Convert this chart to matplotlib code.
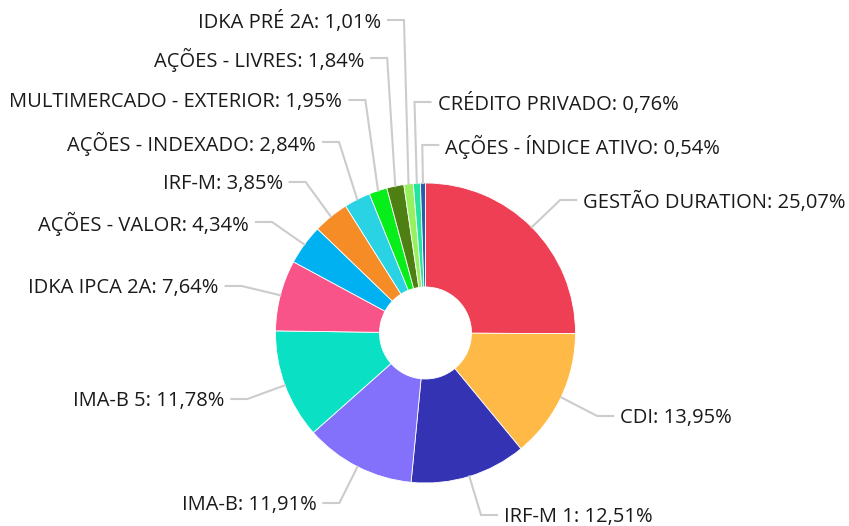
import numpy as np
import matplotlib.pyplot as plt

plt.rcParams['font.family'] = ['Open Sans', 'DejaVu Sans']

# dados
categorias = ['GESTÃO DURATION', 'CDI', 'IRF-M 1', 'IMA-B', 'IMA-B 5', 'IDKA IPCA 2A',
              'AÇÕES - VALOR', 'IRF-M', 'AÇÕES - INDEXADO', 'MULTIMERCADO - EXTERIOR',
              'AÇÕES - LIVRES', 'IDKA PRÉ 2A', 'CRÉDITO PRIVADO', 'AÇÕES - ÍNDICE ATIVO']
valores = [25.07, 13.95, 12.51, 11.91, 11.78, 7.64, 4.34, 3.85, 2.84, 1.95, 1.84, 1.01, 0.76, 0.54]
cores = ['#EE3F55', '#FFB946', '#3333B3', '#8370FB', '#0AE1C4', '#F9548A', '#00B1F1',
         '#F58C25', '#29D3E4', '#07EE1B', '#4E7F12', '#97F05E', '#22E6A0', '#2A5CAA']

# layout (pixels)
W, H = 849, 526
cx, cy = 425.5, 333
raio = 150
furo = 46
L1, L2, gap = 40, 16, 7
# y das linhas dos rótulos (pixel, de cima)
label_y = [200, 416, 515, 503, 399, 286, 222, 182, 142, 100, 58, 20, 102, 145]

fig = plt.figure(figsize=(W / 100, H / 100), dpi=100)
ax = fig.add_axes([0, 0, 1, 1])

wedges, _ = ax.pie(valores, colors=cores, startangle=90, counterclock=False,
                   center=(cx, H - cy), radius=raio,
                   wedgeprops=dict(width=raio - furo, linewidth=0.6, edgecolor='white'))
ax.set_xlim(0, W)
ax.set_ylim(0, H)
ax.set_aspect('equal')
ax.axis('off')

total = sum(valores)
acum = 0
for i, (nome, v) in enumerate(zip(categorias, valores)):
    meio = (acum + v / 2) / total * 2 * np.pi
    acum += v
    dx, dy = np.sin(meio), np.cos(meio)
    x0, y0 = cx + raio * dx, cy - raio * dy
    xe = cx + (raio + L1) * dx
    ye = label_y[i]
    lado = 1 if dx > 0.03 or i >= 12 else -1
    x1 = xe + lado * L2
    ax.plot([x0, xe, x1], [H - y0, H - ye, H - ye], color='#CCCCCC', lw=1.5,
            solid_joinstyle='miter')
    txt = nome + ': ' + ('%.2f' % v).replace('.', ',') + '%'
    ax.text(x1 + lado * gap, H - ye - 2, txt, fontsize=14.5, color='#1a1a1a',
            ha='left' if lado > 0 else 'right', va='center')

fig.savefig('out.png', dpi=100)
